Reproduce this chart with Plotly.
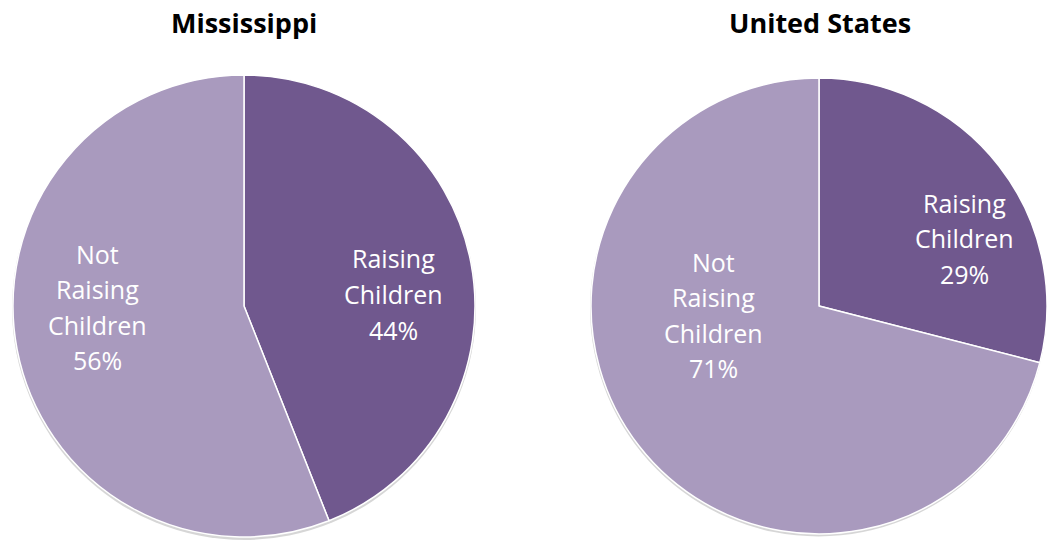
import plotly.graph_objects as go

# Share of households raising children
categories = ["Raising Children", "Not Raising Children"]
label_lines = [["Raising", "Children"], ["Not", "Raising", "Children"]]
mississippi = [44, 56]
united_states = [29, 71]
titles = ["Mississippi", "United States"]
colors = ["#70588E", "#A99ABE"]

W, H = 1047, 542

# pie centre / radius in pixels, and where each slice's label block sits
pies = [
    dict(values=mississippi, cx=244, cy=306, r=231, title_x=244,
         label_at=[(393, 294), (97, 307)]),
    dict(values=united_states, cx=819, cy=306, r=228, title_x=820,
         label_at=[(964, 238), (713, 315)]),
]
LINE_PITCH = 35.5


def dom(cx, cy, r):
    return dict(
        x=[max((cx - r) / W, 0.0), min((cx + r) / W, 1.0)],
        y=[(H - cy - r) / H, (H - cy + r) / H],
    )


fig = go.Figure()
for p in pies:
    # soft drop shadow under the disc
    fig.add_trace(go.Pie(
        values=[1], sort=False, textinfo="none", hoverinfo="skip",
        marker=dict(colors=["rgba(0,0,0,0.16)"], line=dict(width=0)),
        domain=dom(p["cx"], p["cy"] + 2, p["r"] + 1), showlegend=False,
    ))
    fig.add_trace(go.Pie(
        labels=categories,
        values=p["values"],
        sort=False,
        direction="clockwise",
        rotation=0,
        marker=dict(colors=colors, line=dict(color="white", width=1.5)),
        textinfo="none",
        hoverinfo="skip",
        domain=dom(p["cx"], p["cy"], p["r"]),
        showlegend=False,
    ))
    for lines, v, (lx, ly) in zip(label_lines, p["values"], p["label_at"]):
        rows = lines + [f"{v}%"]
        top = ly - LINE_PITCH * (len(rows) - 1) / 2
        for i, row in enumerate(rows):
            fig.add_annotation(
                text=row, x=lx / W, y=1 - (top + i * LINE_PITCH) / H,
                xref="paper", yref="paper", showarrow=False,
                xanchor="center", yanchor="middle",
                font=dict(family="Open Sans", size=25, color="white"),
            )

for t, p, size in zip(titles, pies, [27, 27]):
    fig.add_annotation(
        text=f"<b>{t}</b>", x=p["title_x"] / W, y=1 - 22 / H,
        xref="paper", yref="paper", showarrow=False,
        xanchor="center", yanchor="middle",
        font=dict(family="Open Sans", size=size, color="black"),
    )

fig.update_layout(
    width=W, height=H,
    margin=dict(l=0, r=0, t=0, b=0),
    paper_bgcolor="white",
    plot_bgcolor="white",
)
fig.write_html("out.html")
